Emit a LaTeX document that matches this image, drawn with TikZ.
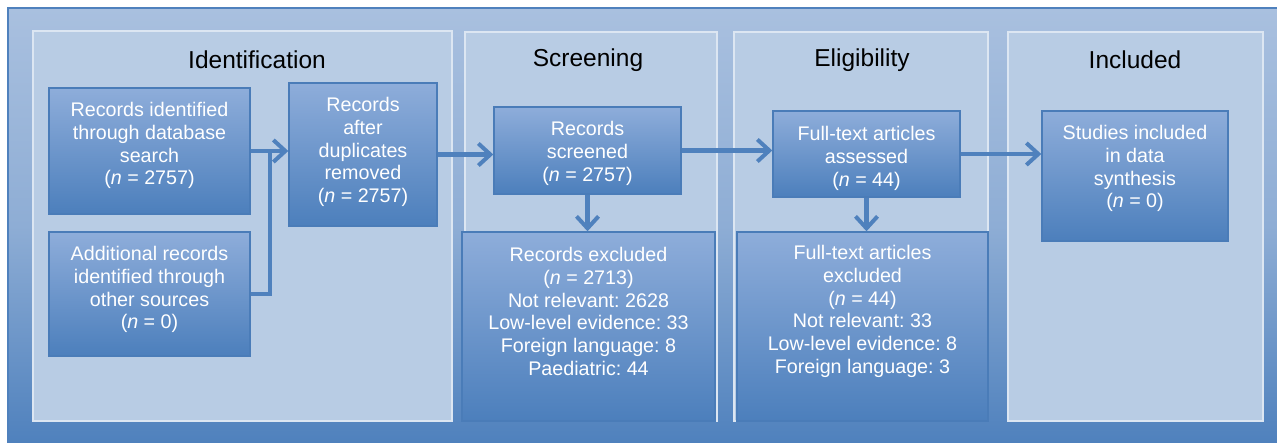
\documentclass[tikz,border=0pt]{standalone}
\usepackage{fontspec}
\setmainfont{Liberation Sans}
\usetikzlibrary{arrows.meta}
\frenchspacing

\definecolor{frameblue}{HTML}{4F81BD}
\definecolor{frametop}{HTML}{A9C0DF}
\definecolor{panelfill}{HTML}{B8CCE4}
\definecolor{panelline}{HTML}{DCE6F2}
\definecolor{boxtop}{HTML}{8EADDA}
\definecolor{boxbottom}{HTML}{4C7FBC}
\definecolor{boxline}{HTML}{4A7CB8}

\tikzset{
  phase/.style={draw=panelline, line width=1.2pt, fill=panelfill},
  phasetitle/.style={font=\fontsize{24.5}{28}\selectfont, text=black, inner sep=0pt},
  stagebox/.style={draw=boxline, line width=1.4pt, top color=boxtop, bottom color=boxbottom,
    inner sep=0pt, minimum width=#1},
  boxtext/.style={anchor=north, align=center, text=white, inner sep=0pt,
    font=\fontsize{19.7}{22.7}\selectfont},
  flow/.style={draw=frameblue, line width=4.5pt,
    -{Straight Barb[length=12pt,width=22pt,line width=4pt]}},
  flowline/.style={draw=frameblue, line width=4.5pt},
}

\newcommand{\nn}{(\textit{n} = }

\begin{document}
\begin{tikzpicture}[x=1pt, y=-1pt]
\useasboundingbox (0,0) rectangle (1277,443);

% outer frame with vertical gradient
\fill[top color=frametop, bottom color=frameblue, middle color=frametop!70!frameblue]
  (8,8) rectangle (1277,443);
\draw[frameblue, line width=1.5pt] (1277,8) -- (8,8) -- (8,443);

% phase panels
\draw[phase] (33,31) rectangle (452,421);
\draw[phase] (465,32) rectangle (717,421);
\draw[phase] (734,32) rectangle (988,421);
\draw[phase] (1008,32) rectangle (1263,421);

\node[phasetitle] (tid) at (257,60) {Identification};
\node[phasetitle] (tsc) at (588,60) {Screening};
\node[phasetitle] (tel) at (862,60) {Eligibility};
\node[phasetitle] (tin) at (1135,60) {Included};

% stage boxes
\node[stagebox=201pt, minimum height=126pt] (b1) at (149.5,151) {};
\node[stagebox=201pt, minimum height=124pt] (b2) at (149.5,294) {};
\node[stagebox=148pt, minimum height=143pt] (b3) at (363,154.5) {};
\node[stagebox=187pt, minimum height=87pt]  (b4) at (587.5,150.5) {};
\node[stagebox=253pt, minimum height=189pt] (b5) at (588.5,326.5) {};
\node[stagebox=187pt, minimum height=86pt]  (b6) at (866.5,154) {};
\node[stagebox=251pt, minimum height=189pt] (b7) at (862.5,326.5) {};
\node[stagebox=186pt, minimum height=130pt] (b8) at (1135,176) {};

% box texts
\node[boxtext] (t1) at ([yshift=-15pt]b1.north) {Records identified\\through database\\search\\\nn 2757)};
\node[boxtext] (t2) at ([yshift=-15pt]b2.north) {Additional records\\identified through\\other sources\\\nn 0)};
\node[boxtext] (t3) at ([yshift=-15pt]b3.north) {Records\\after\\duplicates\\removed\\\nn 2757)};
\node[boxtext] (t4) at ([yshift=-15pt]b4.north) {Records\\screened\\\nn 2757)};
\node[boxtext] (t5) at ([yshift=-16pt]b5.north) {Records excluded\\\nn 2713)\\Not relevant: 2628\\Low-level evidence: 33\\Foreign language: 8\\Paediatric: 44};
\node[boxtext] (t6) at ([yshift=-16pt]b6.north) {Full-text articles\\assessed\\\nn 44)};
\node[boxtext] (t7) at ([yshift=-14pt]b7.north) {Full-text articles\\excluded\\\nn 44)\\Not relevant: 33\\Low-level evidence: 8\\Foreign language: 3};
\node[boxtext] (t8) at ([yshift=-15pt]b8.north) {Studies included\\in data\\synthesis\\\nn 0)};

% connectors
\coordinate (join) at (270,151);
\draw[flowline] (b2.east) -| (join);
\draw[flow] (b1.east) -- (b1.east -| b3.west);
\draw[flow] (b3.east) -- (b3.east -| b4.west);
\draw[flow] (b4.east) -- (b4.east -| b6.west);
\draw[flow] (b6.east) -- (b6.east -| b8.west);
\draw[flow] (b4.south) -- (b4.south |- b5.north);
\draw[flow] (b6.south) -- (b6.south |- b7.north);
\end{tikzpicture}
\end{document}
